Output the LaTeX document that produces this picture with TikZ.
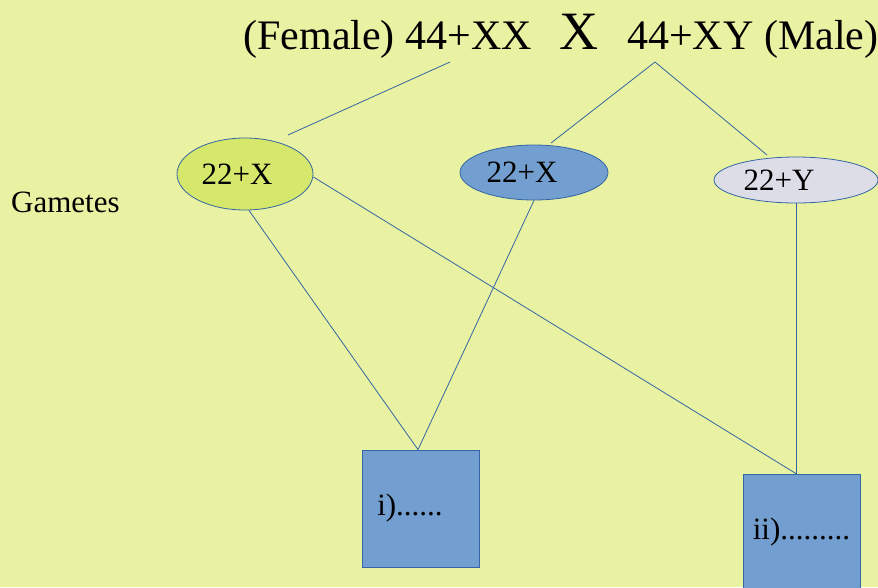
\documentclass[tikz,border=0pt]{standalone}
\usepackage{fontspec}
\setmainfont{Liberation Serif}
\usetikzlibrary{shapes.geometric}
\definecolor{bgyellow}{HTML}{E9F2A2}
\definecolor{lineblue}{HTML}{3465A4}
\definecolor{boxblue}{HTML}{729FCF}
\definecolor{eggreen}{HTML}{D5E86B}
\definecolor{spermgrey}{HTML}{DDDDE8}
\newcommand\parentsize{\fontsize{42}{50}\selectfont}
\newcommand\crosssize{\fontsize{54}{60}\selectfont}
\newcommand\gamsize{\fontsize{31}{36}\selectfont}

\begin{document}
\begin{tikzpicture}[x=1pt,y=-1pt,
    gamete/.style={ellipse,draw=lineblue,line width=0.8pt,inner sep=0pt},
    zygote/.style={rectangle,draw=lineblue,fill=boxblue,line width=0.8pt,
      minimum width=117pt,minimum height=117pt,inner sep=0pt,font=\gamsize},
    cross/.style={draw=lineblue,line width=0.8pt}]
    \fill[bgyellow] (0,0) rectangle (878,587);
    \useasboundingbox (0,0) rectangle (878,587);

    \node[anchor=base east,inner sep=0pt,font=\parentsize] (female) at (532,49) {(Female) 44+XX};
    \node[anchor=base,inner sep=0pt,font=\crosssize] (x) at (579,49) {X};
    \node[anchor=base west,inner sep=0pt,font=\parentsize] (male) at (627,49) {44+XY (Male)};
    \node[anchor=base west,inner sep=0pt,font=\gamsize] (gam) at (11,212) {Gametes};

    \node[gamete,fill=eggreen,minimum width=136pt,minimum height=72pt,
      label={[xshift=-8pt,font=\gamsize]center:22+X}] (e1) at (245,174) {};
    \node[gamete,fill=boxblue,minimum width=148pt,minimum height=55pt,
      label={[xshift=-12pt,font=\gamsize]center:22+X}] (e2) at (534,172.5) {};
    \node[gamete,fill=spermgrey,minimum width=164pt,minimum height=46pt,
      label={[xshift=-17pt,font=\gamsize]center:22+Y}] (e3) at (796,180) {};

    \node[zygote] (z1) at (421,508.5) {\hspace*{-22pt}i)......};
    \node[zygote] (z2) at (801.5,532.5) {ii).........};

    \coordinate (fA) at (450,62);
    \coordinate (fB) at (288,135);
    \coordinate (mA) at (655,62);
    \coordinate (mB) at (551,143);
    \coordinate (mC) at (767,155);

    \draw[cross] (fA) -- (fB);
    \draw[cross] (mB) -- (mA) -- (mC);
    \draw[cross] ([xshift=4pt]e1.south) -- ([xshift=-3pt]z1.north);
    \draw[cross] (e2.south) -- ([xshift=-3pt]z1.north);
    \draw[cross] ([yshift=-3pt]e1.east) -- (e3.south |- z2.north);
    \draw[cross] (e3.south) -- (e3.south |- z2.north);
\end{tikzpicture}
\end{document}
